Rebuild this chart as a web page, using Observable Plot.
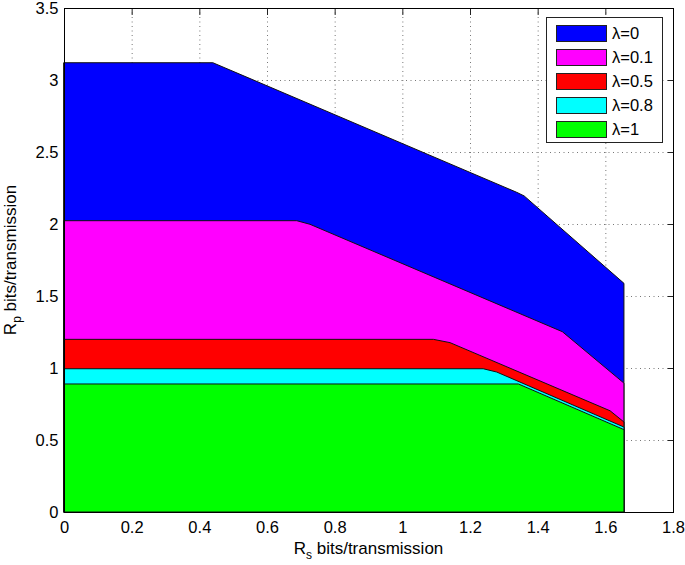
<!DOCTYPE html>
<html>
<head>
<meta charset="utf-8">
<script src="https://cdn.jsdelivr.net/npm/d3@7"></script>
<script src="https://cdn.jsdelivr.net/npm/@observablehq/plot@0.6"></script>
<style>
  html, body { margin: 0; padding: 0; background: #fff; }
  #wrap { position: relative; width: 685px; height: 565px; font-family: "Liberation Sans", Arial, Helvetica, sans-serif; }
  #legend { position: absolute; left: 546px; top: 17px; width: 117px; height: 126px; border: 1px solid #222; background: #fff; box-sizing: border-box; }
  .row { position: absolute; left: 9px; height: 18px; display: flex; align-items: center; }
  .sw { width: 51px; height: 17px; border: 1px solid #222; box-sizing: border-box; }
  .lab { margin-left: 5px; font-size: 16.5px; color: #000; line-height: 18px; }
</style>
</head>
<body>
<div id="wrap"></div>
<script>
// ---- data ----
const seriesNames = ["λ=0", "λ=0.1", "λ=0.5", "λ=0.8", "λ=1"];
const seriesColors = ["#0000ff", "#ff00ff", "#ff0000", "#00ffff", "#00ff00"];

const rs0  = [0, 0.44, 1.338, 1.36, 1.655];
const rp0  = [3.12, 3.12, 2.22, 2.195, 1.588];
const rs01 = [0, 0.688, 0.727, 1.473, 1.655];
const rp01 = [2.023, 2.023, 1.998, 1.252, 0.895];
const rs05 = [0, 1.092, 1.141, 1.614, 1.655];
const rp05 = [1.199, 1.199, 1.176, 0.703, 0.625];
const rs08 = [0, 1.239, 1.279, 1.655];
const rp08 = [0.995, 0.995, 0.972, 0.59];
const rs1  = [0, 1.343, 1.655];
const rp1  = [0.889, 0.889, 0.572];

const xTicks = [0, 0.2, 0.4, 0.6, 0.8, 1, 1.2, 1.4, 1.6, 1.8];
const yTicks = [0, 0.5, 1, 1.5, 2, 2.5, 3, 3.5];
const xLabelMain = "R", xLabelSub = "s", xLabelRest = " bits/transmission";
const yLabelMain = "R", yLabelSub = "p", yLabelRest = " bits/transmission";

// ---- build tables ----
const seriesRs = [rs0, rs01, rs05, rs08, rs1];
const seriesRp = [rp0, rp01, rp05, rp08, rp1];
const tables = seriesNames.map((name, i) =>
  seriesRs[i].map((x, j) => ({series: name, x, y: seriesRp[i][j]})));

const font = '"Liberation Sans", Arial, Helvetica, sans-serif';
const gridStyle = {stroke: "#777", strokeOpacity: 1, strokeDasharray: "1,3.5", strokeWidth: 1};
const blank = () => "";

const chart = Plot.plot({
  width: 685,
  height: 565,
  marginLeft: 64,
  marginRight: 12,
  marginTop: 8,
  marginBottom: 53,
  style: {fontFamily: font, fontSize: "16.5px", color: "#000", background: "transparent"},
  x: {domain: [0, 1.8], label: null},
  y: {domain: [0, 3.5], label: null},
  marks: [
    Plot.gridX(xTicks, gridStyle),
    Plot.gridY(yTicks, gridStyle),
    Plot.axisX(xTicks, {anchor: "top", tickSize: -6, tickFormat: blank, stroke: "#222", label: null}),
    Plot.axisY(yTicks, {anchor: "right", tickSize: -6, tickFormat: blank, stroke: "#222", label: null}),
    ...tables.map((t, i) => Plot.areaY(t, {
      x: "x", y: "y", fill: seriesColors[i], stroke: "#111", strokeWidth: 1
    })),
    Plot.axisX(xTicks, {anchor: "bottom", tickSize: 0, tickPadding: 9, tickFormat: d => String(d), label: null}),
    Plot.axisY(yTicks, {anchor: "left", tickSize: 0, tickPadding: 6, tickFormat: d => String(d), label: null}),
    Plot.frame({stroke: "#000", strokeWidth: 1})
  ]
});

document.getElementById("wrap").appendChild(chart);

// ---- axis titles with subscripts (real text) ----
const svg = d3.select(chart);
const xr = chart.scale("x").range, yr = chart.scale("y").range;
const cx = (xr[0] + xr[1]) / 2, cy = (yr[0] + yr[1]) / 2;
const bottom = Math.max(yr[0], yr[1]);

function addLabel(main, sub, rest, transform) {
  const t = svg.append("text")
    .attr("transform", transform)
    .attr("text-anchor", "middle")
    .attr("font-family", font)
    .attr("font-size", "17px")
    .attr("fill", "#000");
  t.append("tspan").text(main);
  t.append("tspan").attr("font-size", "12px").attr("dy", "5").text(sub);
  t.append("tspan").attr("dy", "-5").text(rest);
}
addLabel(xLabelMain, xLabelSub, xLabelRest, `translate(${cx},${bottom + 42})`);
addLabel(yLabelMain, yLabelSub, yLabelRest, `translate(16,${cy}) rotate(-90)`);

// ---- legend ----
const legend = document.createElement("div");
legend.id = "legend";
seriesNames.forEach((name, i) => {
  const row = document.createElement("div");
  row.className = "row";
  row.style.top = (6 + i * 24) + "px";
  const sw = document.createElement("div");
  sw.className = "sw";
  sw.style.background = seriesColors[i];
  const lab = document.createElement("span");
  lab.className = "lab";
  lab.textContent = name;
  row.appendChild(sw);
  row.appendChild(lab);
  legend.appendChild(row);
});
document.getElementById("wrap").appendChild(legend);
</script>
</body>
</html>
